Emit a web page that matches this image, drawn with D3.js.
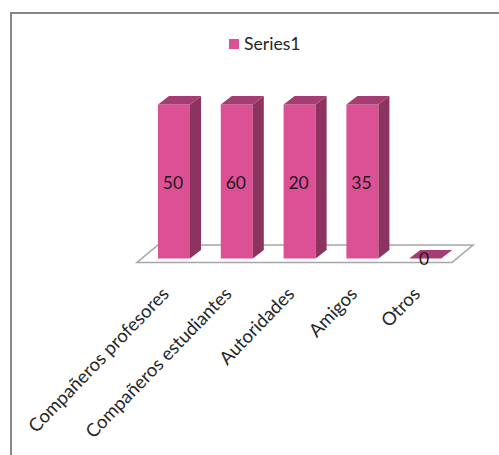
<!DOCTYPE html>
<html><head><meta charset="utf-8">
<script src="https://cdn.jsdelivr.net/npm/d3@7"></script>
<style>html,body{margin:0;padding:0;background:#fff}svg{display:block}text{font-family:Lato,"Open Sans",sans-serif;fill:#262626}</style>
</head><body><svg id="c" width="499" height="455"></svg>
<script>
const categories = ["Compañeros profesores","Compañeros estudiantes","Autoridades","Amigos","Otros"];
const values = [50,60,20,35,0];
const seriesName = "Series1";
const yDomain = [0,20];

const svg = d3.select("#c");
const dx = 11, dy = -8.5;
const floorFront = 262.5, barBase = 258.5, barTop = 104.5;
const x = d3.scaleBand().domain(categories).range([142.6,456.6]).paddingInner(.49).paddingOuter(.245);
const y = d3.scaleLinear().domain(yDomain).range([barBase,barTop]).clamp(true);
const line = d3.line();

// frame
svg.append("path").attr("d","M11,455V13H499").attr("fill","none").attr("stroke","#868686").attr("stroke-width",2);

// floor
const floorL = 137, floorR = 452;
svg.append("path").attr("d",line([[floorL,floorFront],[floorR,floorFront],[floorR+21,245],[floorL+21,245]])+"Z")
  .attr("fill","#fff").attr("stroke","#a6a6a6").attr("stroke-width",1.6);

// bars
const g = svg.selectAll("g.bar").data(categories.map((c,i)=>({c,v:values[i]}))).join("g").attr("class","bar");
g.each(function(d){
  const s = d3.select(this), l = x(d.c), r = l + x.bandwidth(), t = y(d.v), b = y(0);
  if (t < b) {
    s.append("rect").attr("x",l).attr("y",t).attr("width",r-l).attr("height",b-t).attr("fill","#dc5196");
    s.append("path").attr("d",line([[r,t],[r+dx,t+dy],[r+dx,b+dy],[r,b]])+"Z").attr("fill","#8d3360");
  }
  s.append("path").attr("d",line([[l,t],[l+dx,t+dy],[r+dx,t+dy],[r,t]])+"Z").attr("fill","#a63d72");
  s.append("text").attr("x",(l+r)/2-1).attr("y",d.v>0?(t+b)/2+7:t+6.5)
    .attr("text-anchor","middle").attr("font-size",17.5).style("fill","#1f1a1c").text(d.v);
});

// category labels
svg.selectAll("text.cat").data(categories).join("text").attr("class","cat")
  .attr("transform",d=>`translate(${x(d)+x.bandwidth()/2-4},${295}) rotate(-46)`)
  .attr("text-anchor","end").attr("font-size",18.5).text(d=>d);

// legend
svg.append("rect").attr("x",229).attr("y",39).attr("width",10).attr("height",10).attr("fill","#dc5196");
svg.append("text").attr("x",244).attr("y",50).attr("font-size",17.6).text(seriesName);
</script></body></html>
